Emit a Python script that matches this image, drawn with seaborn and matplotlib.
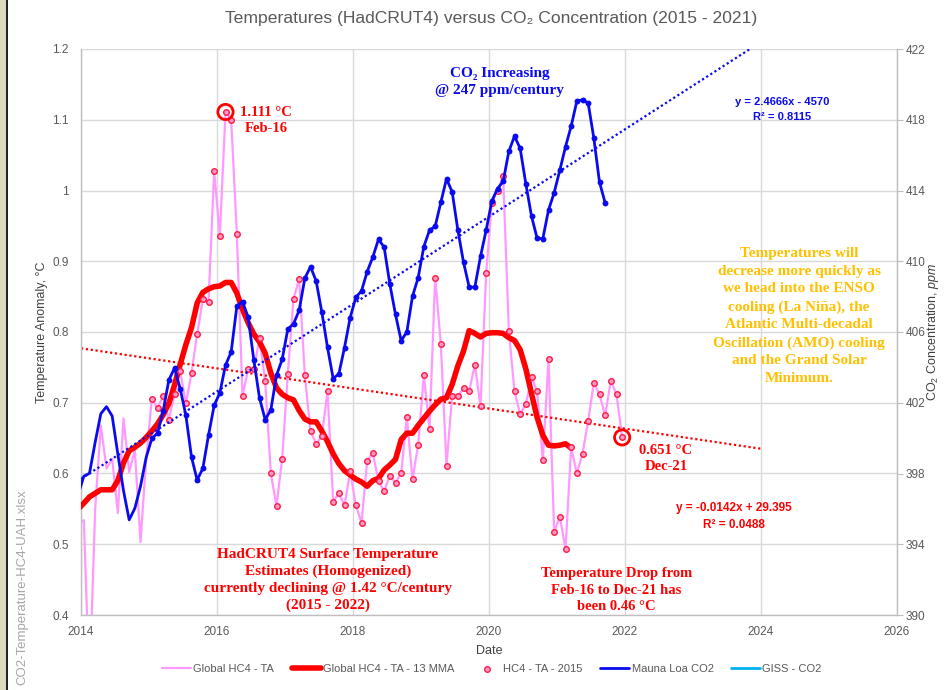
import pandas as pd
import matplotlib
matplotlib.use('Agg')
import matplotlib.pyplot as plt
import seaborn as sns
from matplotlib.patches import Rectangle
from matplotlib.ticker import FuncFormatter


# HadCRUT4 global monthly anomaly (deg C), Dec 2013 - Dec 2021
hc4_ta = [
    0.530,
    0.534, 0.300, 0.550, 0.668, 0.607, 0.621, 0.544, 0.678, 0.602, 0.633, 0.503, 0.620,  # 2014
    0.706, 0.692, 0.710, 0.676, 0.712, 0.745, 0.699, 0.742, 0.797, 0.846, 0.842, 1.027,  # 2015
    0.936, 1.111, 1.100, 0.939, 0.710, 0.747, 0.747, 0.791, 0.731, 0.600, 0.554, 0.621,  # 2016
    0.741, 0.847, 0.875, 0.739, 0.660, 0.642, 0.653, 0.716, 0.560, 0.572, 0.555, 0.603,  # 2017
    0.555, 0.530, 0.618, 0.629, 0.589, 0.575, 0.597, 0.587, 0.600, 0.680, 0.592, 0.640,  # 2018
    0.739, 0.663, 0.877, 0.783, 0.611, 0.710, 0.709, 0.721, 0.716, 0.754, 0.695, 0.883,  # 2019
    0.983, 1.000, 1.020, 0.802, 0.716, 0.684, 0.698, 0.736, 0.716, 0.619, 0.762, 0.517,  # 2020
    0.539, 0.493, 0.637, 0.600, 0.628, 0.674, 0.728, 0.712, 0.682, 0.731, 0.712, 0.651,  # 2021
]

# 13 month moving average, Dec 2013 - Mar 2021
hc4_mma = [
    0.550,
    0.558, 0.567, 0.572, 0.577, 0.577, 0.577, 0.590, 0.615, 0.632, 0.637, 0.643, 0.651,  # 2014
    0.660, 0.670, 0.683, 0.699, 0.725, 0.754, 0.782, 0.806, 0.841, 0.856, 0.861, 0.864,  # 2015
    0.865, 0.870, 0.870, 0.855, 0.832, 0.813, 0.797, 0.786, 0.770, 0.742, 0.721, 0.712,  # 2016
    0.707, 0.704, 0.689, 0.677, 0.673, 0.673, 0.660, 0.645, 0.628, 0.614, 0.604, 0.598,  # 2017
    0.592, 0.588, 0.582, 0.590, 0.593, 0.605, 0.612, 0.620, 0.648, 0.657, 0.657, 0.668,  # 2018
    0.678, 0.688, 0.697, 0.705, 0.707, 0.726, 0.752, 0.773, 0.802, 0.798, 0.793, 0.798,  # 2019
    0.799, 0.799, 0.798, 0.792, 0.788, 0.775, 0.748, 0.713, 0.679, 0.654, 0.640, 0.639,  # 2020
    0.640, 0.642, 0.636,  # 2021
]

# Mauna Loa CO2 (ppm), Dec 2013 - Sep 2021
mauna_loa = [
    396.81,
    397.85, 398.01, 399.77, 401.38, 401.78, 401.25, 399.10, 397.03, 395.38, 396.03, 397.28, 398.91,  # 2014
    399.98, 400.28, 401.54, 403.28, 403.96, 402.80, 401.31, 398.93, 397.63, 398.29, 400.16, 401.85,  # 2015
    402.56, 404.12, 404.87, 407.45, 407.72, 406.83, 404.41, 402.27, 401.05, 401.59, 403.55, 404.45,  # 2016
    406.17, 406.46, 407.22, 409.04, 409.69, 408.88, 407.12, 405.13, 403.37, 403.63, 405.12, 406.81,  # 2017
    407.96, 408.32, 409.41, 410.24, 411.24, 410.79, 408.71, 406.99, 405.51, 406.00, 408.02, 409.07,  # 2018
    410.83, 411.75, 411.97, 413.33, 414.66, 413.92, 411.77, 409.95, 408.54, 408.53, 410.27, 411.76,  # 2019
    413.40, 414.11, 414.51, 416.21, 417.07, 416.38, 414.38, 412.55, 411.29, 411.28, 412.89, 413.88,  # 2020
    415.15, 416.47, 417.64, 419.05, 419.13, 418.94, 416.96, 414.47, 413.30,  # 2021
]

# linear trend end points
trend_years = [2014, 2024]
temp_trend = [0.777, 0.635]
co2_trend = [397.7, 422.4]

highlight_months = ['Feb-16', 'Dec-21']


def monthly(start, values, name):
    p = pd.period_range(start, periods=len(values), freq='M')
    return pd.DataFrame({
        'date': p.year + (p.month - 0.5) / 12,
        'month': p.strftime('%b-%y'),
        name: values,
    })


temp_df = monthly('2013-12', hc4_ta, 'anom')
mma_df = monthly('2013-12', hc4_mma, 'anom')
co2_df = monthly('2013-12', mauna_loa, 'co2')
marker_df = temp_df[temp_df['date'] > 2015]
co2_marker_df = co2_df[co2_df['date'] > 2015]
peak_df = temp_df[temp_df['month'].isin(highlight_months)]
trend_df = pd.DataFrame({'date': trend_years, 'temp': temp_trend, 'co2': co2_trend})

PINK = '#FF99FF'
RED = '#FF0000'
BLUE = '#0A0AF0'
ORANGE = '#FFC000'
GREY = '#595959'

sns.set_style('white')
plt.rcParams['font.family'] = ['Liberation Sans', 'DejaVu Sans']
plt.rcParams['mathtext.fontset'] = 'custom'
plt.rcParams['mathtext.rm'] = 'Liberation Sans'
plt.rcParams['mathtext.it'] = 'Liberation Sans:italic'

fig = plt.figure(figsize=(9.47, 6.9), dpi=100)
ax = fig.add_axes([81 / 947, 1 - 615 / 690, 816 / 947, 566 / 690])
ax2 = ax.twinx()

# temperature side
sns.lineplot(data=temp_df, x='date', y='anom', ax=ax, color=PINK, lw=1.6,
             estimator=None, label='Global HC4 - TA', zorder=2)
sns.lineplot(data=mma_df, x='date', y='anom', ax=ax, color=RED, lw=4,
             estimator=None, label='Global HC4 - TA - 13 MMA', zorder=3)
sns.scatterplot(data=marker_df, x='date', y='anom', ax=ax, s=16, color='#FF99CC',
                edgecolor='#FF1A40', linewidth=1, label='HC4 - TA - 2015', zorder=4)
sns.lineplot(data=trend_df, x='date', y='temp', ax=ax, color=RED, lw=1.6,
             linestyle=(0, (1, 1.2)), zorder=2)

# CO2 side
sns.lineplot(data=co2_df, x='date', y='co2', ax=ax2, color=BLUE, lw=2,
             estimator=None, label='Mauna Loa CO2', zorder=3)
sns.scatterplot(data=co2_marker_df, x='date', y='co2', ax=ax2, s=18, color=BLUE,
                edgecolor=BLUE, linewidth=0, zorder=4)
sns.lineplot(data=trend_df, x='date', y='co2', ax=ax2, color=BLUE, lw=1.6,
             linestyle=(0, (1, 1.2)), zorder=2)
ax2.plot([], [], color='#00B0F0', lw=2, label='GISS - CO2')

# the two highlighted months, drawn on top
sns.scatterplot(x=peak_df['date'].values, y=(peak_df['anom'].values - 0.4) * 40 + 390,
                ax=ax2, s=120, facecolor='none', edgecolor=RED, linewidth=2, zorder=6)

for a in (ax, ax2):
    if a.get_legend() is not None:
        a.get_legend().remove()

ax.set_xlim(2014, 2026)
ax.set_ylim(0.4, 1.2)
ax2.set_ylim(390, 422)
ax.set_xticks(range(2014, 2027, 2))
ax.set_yticks([0.4 + 0.1 * i for i in range(9)])
ax2.set_yticks(range(390, 423, 4))
ax.yaxis.set_major_formatter(FuncFormatter(lambda v, p: f'{v:g}'))

ax.set_axisbelow(True)
ax.grid(True, color='#D9D9D9', lw=1)
ax2.grid(False)
for s in ['top', 'right']:
    ax.spines[s].set_visible(False)
ax2.spines['top'].set_visible(False)
ax2.spines['left'].set_visible(False)
for sp in (ax.spines['left'], ax.spines['bottom'], ax2.spines['right']):
    sp.set_color('#BFBFBF')
    sp.set_linewidth(1)
ax2.spines['bottom'].set_visible(False)

ax.tick_params(axis='both', length=0, labelsize=8.5, labelcolor=GREY)
ax.tick_params(axis='y', pad=9)
ax.tick_params(axis='x', pad=8)
ax2.tick_params(axis='y', length=4, color='#BFBFBF', labelsize=8.5, labelcolor=GREY, pad=2)

ax.set_xlabel('Date', fontsize=9, color='#404040')
ax.xaxis.set_label_coords(0.5, -(645 - 615) / 566)
ax.set_ylabel('Temperature Anomaly, \u00b0C', fontsize=9, color='#404040')
ax.yaxis.set_label_coords(-(81 - 48) / 816, 0.5)
ax2.set_ylabel(r'CO$_2$ Concentration, $\mathit{ppm}$', fontsize=9, color='#404040')
ax2.yaxis.set_label_coords(1 + (925 - 897) / 816, 0.5)

# annotations
serif = ['Liberation Serif', 'DejaVu Serif']
serif_kw = dict(ha='center', va='center', fontweight='bold', linespacing=1.36,
                family=serif, zorder=7)
eq_kw = dict(ha='center', va='center', fontweight='bold', linespacing=1.6, zorder=7)
ax.text(2020.16, 1.153, 'CO\u2082 Increasing\n@ 247 ppm/century', color=BLUE,
        fontsize=11, **serif_kw)
ax.text(2024.31, 1.115, 'y = 2.4666x - 4570\nR\u00b2 = 0.8115', color=BLUE,
        fontsize=8, **eq_kw)
ax.text(2016.72, 1.099, '1.111 \u00b0C\nFeb-16', color=RED, fontsize=10.5, **serif_kw)
orange_kw = dict(serif_kw, linespacing=1.46)
ax.text(2024.56, 0.8226, 'Temperatures will\ndecrease more quickly as\nwe head into the ENSO\n'
        'cooling (La Ni\u00f1a), the\nAtlantic Multi-decadal\nOscillation (AMO) cooling\n'
        'and the Grand Solar\nMinimum.', color=ORANGE, fontsize=11, **orange_kw)
ax.text(2022.6, 0.621, '0.651 \u00b0C\nDec-21', color=RED, fontsize=10.5, **serif_kw)
ax.text(2023.6, 0.539, 'y = -0.0142x + 29.395\nR\u00b2 = 0.0488', color=RED, fontsize=8.5, **eq_kw)
ax.text(2017.63, 0.4495, 'HadCRUT4 Surface Temperature\nEstimates (Homogenized)\n'
        'currently declining @ 1.42 \u00b0C/century\n(2015 - 2022)', color=RED,
        fontsize=11, **serif_kw)
ax.text(2021.87, 0.435, 'Temperature Drop from\nFeb-16 to Dec-21 has\nbeen 0.46 \u00b0C',
        color=RED, fontsize=10.5, **serif_kw)

fig.text(491 / 947, 1 - 19 / 690, 'Temperatures (HadCRUT4) versus CO\u2082 Concentration (2015 - 2021)',
         ha='center', va='center', fontsize=12.6, color=GREY)

h1, l1 = ax.get_legend_handles_labels()
h2, l2 = ax2.get_legend_handles_labels()
fig.legend(h1 + h2, l1 + l2, loc='center', bbox_to_anchor=(492 / 947, 1 - 669 / 690),
           ncol=5, frameon=False, fontsize=8, handlelength=2.6, columnspacing=1.6,
           handletextpad=0.2, labelcolor=GREY, scatterpoints=1)

# window edge and file name on the left
fig.patches.append(Rectangle((0, 0), 6 / 947, 1, transform=fig.transFigure,
                             facecolor='#DDD9BE', edgecolor='none'))
fig.patches.append(Rectangle((6 / 947, 0), 2 / 947, 1, transform=fig.transFigure,
                             facecolor='#222222', edgecolor='none'))
fig.text(22 / 947, 1 - 587 / 690, 'CO2-Temperature-HC4-UAH.xlsx', rotation=90,
         ha='center', va='center', fontsize=9.5, color='#A6A6A6')

fig.savefig('out.png', dpi=100)
